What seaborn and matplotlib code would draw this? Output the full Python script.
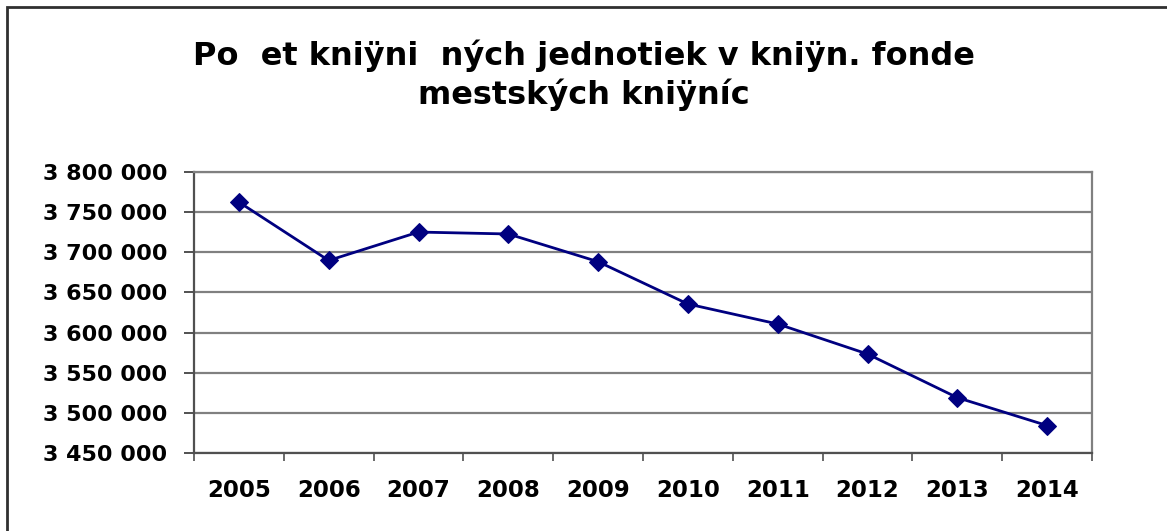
import matplotlib
matplotlib.use("Agg")
import matplotlib.pyplot as plt
import matplotlib.ticker as mticker
from matplotlib.patches import Rectangle
import seaborn as sns
import pandas as pd
import numpy as np

years = ["2005", "2006", "2007", "2008", "2009", "2010", "2011", "2012", "2013", "2014"]
values = [3762500, 3689800, 3725200, 3722800, 3688300, 3635600, 3610700, 3573300, 3519000, 3484200]
y_ticks = [3450000, 3500000, 3550000, 3600000, 3650000, 3700000, 3750000, 3800000]
title_line1 = "Po  et kniÿni  ných jednotiek v kniÿn. fonde"
title_line2 = "mestských kniÿníc"

sns.set_theme(style="white")
plt.rcParams["font.family"] = ["DejaVu Sans"]

df = pd.DataFrame({"year": years, "value": values})

fig = plt.figure(figsize=(11.67, 5.31), dpi=100)
ax = fig.add_axes([194 / 1167, 1 - 453 / 531, (1092 - 194) / 1167, (453 - 172) / 531])

sns.lineplot(data=df, x="year", y="value", ax=ax, color="#000080", linewidth=2,
             marker="D", markersize=9, markeredgecolor="#000080", markerfacecolor="#000080")

ax.set_xlim(-0.5, len(years) - 0.5)
ax.set_ylim(y_ticks[0], y_ticks[-1])
ax.set_yticks(y_ticks)
ax.yaxis.set_major_formatter(mticker.FuncFormatter(lambda v, p: f"{v:,.0f}".replace(",", " ")))
ax.set_xticks(range(len(years)))
ax.set_xticklabels(years)
ax.set_xticks(np.arange(-0.5, len(years), 1.0), minor=True)

ax.grid(axis="y", color="#808080", linewidth=1.6)
ax.grid(axis="x", visible=False)
ax.set_axisbelow(True)

for s in ["left", "bottom"]:
    ax.spines[s].set_color("#505050")
    ax.spines[s].set_linewidth(1.6)
for s in ["right", "top"]:
    ax.spines[s].set_color("#808080")
    ax.spines[s].set_linewidth(1.6)

ax.tick_params(axis="y", which="major", left=True, length=7.2, width=1.4, color="#505050",
               pad=12, labelsize=16)
ax.tick_params(axis="x", which="major", bottom=False, length=0, pad=19, labelsize=16.5)
ax.tick_params(axis="x", which="minor", bottom=True, length=5.8, width=1.2, color="#505050")
for lbl in ax.get_xticklabels() + ax.get_yticklabels():
    lbl.set_fontweight("bold")
    lbl.set_color("black")

ax.set_xlabel("")
ax.set_ylabel("")

fig.text(0.5, 1 - 65 / 531, title_line1, ha="center", va="baseline", fontsize=23,
         fontweight="bold", color="black")
fig.text(0.5, 1 - 104 / 531, title_line2, ha="center", va="baseline", fontsize=23,
         fontweight="bold", color="black")

fig.patches.append(Rectangle((7 / 1167, -0.05), 1.2, 1 - 7 / 531 + 0.05, transform=fig.transFigure,
                             fill=False, edgecolor="#303030", linewidth=2))

fig.savefig("out.png", dpi=100)
